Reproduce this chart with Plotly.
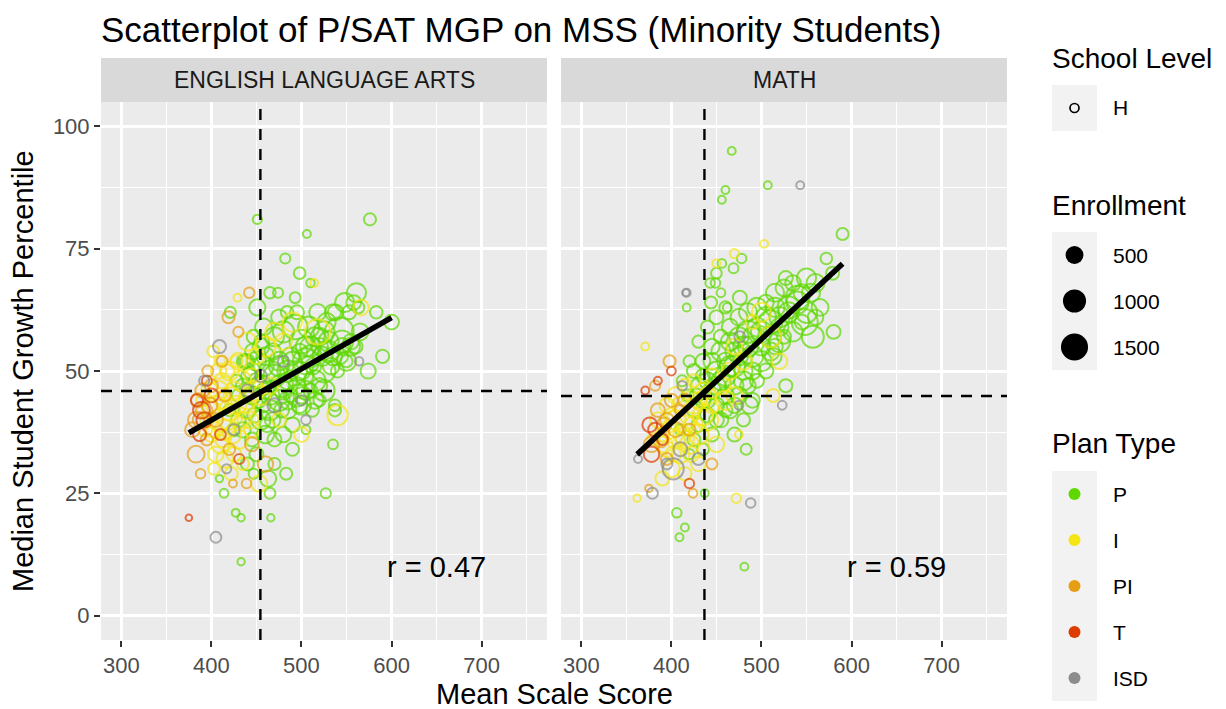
import numpy as np
import plotly.graph_objects as go

# ---------------- data ----------------
# Mean Scale Score (mss), Median Growth Percentile (mgp), enrollment (enr) per plan type

# ENGLISH LANGUAGE ARTS
ela_p_mss = [451, 576, 506, 482, 498, 510, 465, 474, 493, 561, 558, 563, 600, 583, 590, 574, 542, 451, 484, 535,
             493, 421, 427, 433, 466, 433, 527, 535, 483, 465, 463, 409, 505, 537, 537, 414, 447,
             440, 455, 470, 480, 500, 510, 520, 530, 545, 555, 565, 550, 525, 515, 505, 495, 485, 475, 465, 460,
             450, 445, 440, 435, 430, 425, 435, 445, 455, 465, 475, 485, 495, 505, 515, 525, 535, 545, 555, 560,
             550, 540, 520, 510, 500, 490, 480, 470, 460, 450, 440, 470, 490, 500, 478, 468, 458, 447, 488, 498,
             508, 518, 528, 538, 548, 458, 452, 462, 442, 430, 420, 428, 438, 503, 513, 523, 533, 543, 553, 495,
             475, 485, 512, 520,
             445, 450, 455, 460, 465, 470, 475, 480, 485, 490, 495, 500, 505, 510, 515, 520, 525, 530, 440, 448,
             458, 468, 478, 488, 498, 436, 446, 456]
ela_p_mgp = [81, 81, 78, 73, 70, 68, 66, 66, 65, 66, 64, 63, 60, 62, 53, 50, 58, 63, 62, 62,
             59, 62, 21, 20, 20, 11, 25, 35, 29, 25, 28, 28, 38, 42, 43, 25, 29,
             52, 55, 57, 58, 56, 55, 57, 54, 56, 55, 58, 52, 50, 48, 52, 50, 48, 52, 50, 46,
             48, 45, 42, 47, 40, 38, 38, 36, 40, 42, 44, 44, 45, 46, 44, 46, 53, 55, 56, 55,
             52, 50, 47, 46, 45, 39, 37, 36, 37, 33, 31, 31, 34, 43, 47, 54, 59, 57, 53, 54,
             59, 62, 60, 62, 64, 51, 44, 39, 49, 45, 42, 48, 52, 49, 51, 53, 51, 53, 62, 62,
             61, 42, 42, 44,
             50, 52, 47, 53, 45, 49, 51, 46, 50, 52, 47, 50, 55, 53, 57, 55, 58, 56, 46, 41,
             43, 40, 42, 45, 43, 52, 54, 56]
ela_p_enr = [90, 200, 60, 120, 180, 70, 170, 120, 150, 700, 350, 200, 350, 220, 260, 380, 1900, 450, 220, 450,
             1300, 160, 60, 50, 50, 50, 120, 110, 200, 150, 450, 50, 80, 220, 180, 80, 120,
             300, 500, 700, 900, 1200, 800, 600, 900, 1000, 600, 500, 700, 1100, 900, 1500, 800, 600, 700, 900, 500,
             400, 600, 500, 300, 350, 250, 400, 300, 700, 800, 900, 600, 1000, 700, 500, 900, 600, 500, 400, 300,
             200, 250, 400, 300, 450, 350, 400, 300, 550, 300, 250, 200, 250, 700, 1100, 450, 500, 300, 600, 400,
             900, 500, 600, 400, 700, 800, 400, 350, 450, 250, 200, 200, 300, 600, 450, 700, 500, 400, 300, 300,
             400, 500, 250, 200,
             500, 700, 900, 600, 700, 1000, 800, 600, 900, 700, 500, 600, 800, 1000, 700, 500, 900, 800, 400, 350,
             300, 400, 350, 300, 400, 300, 400, 350]

ela_i_mss = [429, 514, 566, 518, 540, 453, 402, 403, 398, 405, 410, 415, 420, 425, 430, 435, 440, 445, 410, 405,
             415, 425, 420, 430, 440, 450, 460, 470, 480, 395, 390, 412, 418, 400, 422, 435, 445, 455, 465, 475,
             490, 500, 410, 428,
             400, 408, 413, 418, 423, 428, 433, 438, 443, 448, 403, 413, 423, 393, 408]
ela_i_mgp = [65, 68, 63, 58, 41, 27, 54, 30, 46, 43, 40, 38, 42, 46, 36, 40, 44, 38, 35, 33,
             32, 33, 50, 52, 56, 53, 55, 58, 56, 40, 44, 48, 50, 37, 29, 31, 49, 45, 47, 40,
             60, 37, 52, 52,
             42, 46, 44, 40, 37, 43, 48, 42, 40, 46, 38, 36, 45, 38, 50]
ela_i_enr = [60, 60, 400, 1400, 800, 450, 180, 200, 500, 700, 1000, 800, 900, 600, 700, 500, 600, 400, 600, 400,
             500, 350, 700, 500, 600, 400, 800, 600, 500, 300, 200, 400, 250, 350, 250, 200, 350, 700, 500, 300,
             700, 350, 150, 200,
             600, 700, 500, 800, 600, 700, 800, 600, 500, 800, 500, 400, 500, 300, 400]

ela_pi_mss = [442, 419, 396, 383, 379, 388, 439, 424, 385, 392, 400, 395, 405, 415, 388, 430, 412, 420, 445, 460,
              383, 390, 398]
ela_pi_mgp = [66, 61, 50, 33, 38, 29, 27, 27, 44, 42, 47, 36, 40, 45, 40, 58, 52, 34, 35, 31,
              40, 46, 43]
ela_pi_enr = [130, 200, 150, 500, 350, 100, 100, 60, 300, 450, 250, 200, 300, 200, 400, 120, 150, 180, 300, 400,
              450, 300, 400]

ela_t_mss = [375, 431, 387, 389, 384, 400, 410, 395, 392]
ela_t_mgp = [20, 32, 37, 42, 44, 45, 37, 48, 40]
ela_t_enr = [40, 120, 250, 500, 200, 300, 150, 120, 400]

ela_isd_mss = [405, 409, 392, 564, 417, 425, 470, 455, 480, 500, 440, 505]
ela_isd_mgp = [16, 55, 48, 52, 30, 38, 43, 49, 52, 44, 46, 40]
ela_isd_enr = [150, 250, 120, 70, 90, 150, 300, 200, 150, 120, 200, 100]

# MATH
math_p_mss = [467, 507, 460, 456, 590, 478, 469, 450, 456, 572, 579, 417, 443, 449, 455, 444, 476, 462, 527, 580,
              481, 406, 415, 409, 437, 483, 527, 487, 557, 513,
              540, 530, 550, 520, 510, 500, 490, 480, 470, 460, 450, 440, 430, 425, 435, 445, 455, 465, 475, 485,
              495, 505, 515, 525, 535, 545, 555, 565, 560, 548, 535, 520, 510, 500, 490, 480, 470, 460, 450, 440,
              430, 425, 435, 445, 455, 465, 475, 485, 495, 505, 515, 525, 545, 440, 450, 460, 430, 420, 470, 480,
              490, 455, 465, 475, 485, 445, 435, 425, 418, 412, 410, 420,
              445, 450, 455, 460, 465, 470, 475, 480, 485, 490, 495, 500, 505, 510, 515, 520, 530, 540, 550, 560,
              440, 450, 460, 470, 435, 428]
math_p_mgp = [95, 88, 87, 85, 78, 73, 71, 70, 72, 73, 70, 63, 68, 68, 66, 64, 65, 63, 69, 58,
              10, 21, 18, 16, 25, 34, 47, 43, 57, 53,
              65, 63, 62, 61, 60, 58, 57, 55, 54, 52, 50, 48, 47, 50, 52, 55, 57, 59, 61, 62,
              63, 64, 66, 67, 68, 66, 66, 63, 61, 60, 58, 56, 54, 52, 50, 48, 47, 45, 43, 41,
              39, 36, 34, 37, 40, 42, 45, 47, 48, 50, 55, 57, 60, 59, 61, 63, 56, 52, 37, 40,
              44, 48, 51, 53, 58, 46, 44, 42, 45, 48, 38, 33,
              52, 47, 54, 49, 56, 51, 57, 50, 55, 53, 59, 55, 61, 57, 63, 59, 62, 64, 69, 68,
              44, 40, 42, 43, 49, 45]
math_p_enr = [60, 60, 60, 60, 200, 100, 110, 140, 80, 180, 250, 60, 100, 100, 80, 200, 300, 80, 300, 300,
              60, 100, 60, 60, 60, 150, 250, 500, 1000, 500,
              1200, 1000, 900, 800, 1200, 900, 700, 800, 600, 500, 700, 500, 400, 300, 350, 400, 300, 450, 500, 600,
              700, 400, 600, 500, 400, 500, 600, 500, 400, 1500, 700, 900, 600, 800, 500, 700, 600, 500, 400, 350,
              300, 250, 200, 300, 350, 450, 500, 400, 300, 350, 400, 300, 350, 250, 300, 200, 200, 180, 300, 250,
              350, 700, 800, 600, 1000, 600, 400, 300, 200, 150, 150, 120,
              500, 600, 700, 800, 600, 900, 700, 600, 800, 900, 700, 600, 800, 900, 700, 600, 800, 1000, 700, 600,
              400, 350, 300, 400, 300, 300]

math_i_mss = [371, 503, 470, 450, 362, 472, 475, 513, 500, 510, 480, 460, 440, 430, 420, 410, 400, 395, 405, 415,
              425, 435, 445, 390, 385, 395, 405, 415, 425, 380, 400, 415, 430, 450, 470, 490, 520, 390,
              398, 405, 410, 415, 420, 425, 430, 435, 440, 445, 392, 402, 412, 422, 455, 465, 470]
math_i_mgp = [55, 76, 74, 72, 24, 24, 37, 45, 62, 57, 52, 44, 40, 37, 35, 33, 30, 34, 36, 39,
              43, 46, 49, 37, 40, 43, 45, 47, 48, 36, 41, 29, 31, 35, 45, 60, 52, 28,
              38, 40, 43, 36, 41, 39, 44, 41, 45, 43, 35, 33, 37, 33, 47, 50, 55]
math_i_enr = [60, 60, 90, 60, 50, 100, 60, 250, 700, 900, 500, 700, 900, 800, 700, 600, 500, 400, 600, 700,
              500, 400, 350, 300, 400, 350, 500, 300, 250, 200, 300, 250, 350, 400, 500, 300, 400, 300,
              600, 700, 500, 600, 700, 600, 500, 800, 600, 400, 500, 400, 600, 400, 600, 500, 400]

math_pi_mss = [398, 375, 424, 385, 392, 400, 378, 395, 410, 382, 420, 445, 388, 395, 405, 415]
math_pi_mgp = [52, 26, 25, 42, 39, 44, 35, 32, 42, 47, 38, 31, 36, 40, 38, 44]
math_pi_enr = [200, 50, 80, 300, 350, 250, 400, 200, 150, 120, 200, 150, 400, 300, 350, 250]

math_t_mss = [371, 420, 378, 376, 385, 390, 400, 382]
math_t_mgp = [46, 27, 33, 39, 48, 36, 50, 38]
math_t_enr = [60, 100, 400, 350, 60, 150, 80, 300]

math_isd_mss = [417, 416, 543, 476, 363, 379, 488, 402, 523, 475, 410, 395, 430, 412]
math_isd_mgp = [66, 66, 88, 57, 32, 25, 23, 30, 43, 43, 34, 31, 32, 47]
math_isd_enr = [60, 50, 60, 150, 60, 150, 100, 900, 80, 80, 300, 150, 200, 100]

# reference lines (dashed) and correlation labels
ela_ref_mss, ela_ref_mgp = 454.4, 45.9
math_ref_mss, math_ref_mgp = 436.7, 44.9
r_labels = ["r = 0.47", "r = 0.59"]
subjects = ["ENGLISH LANGUAGE ARTS", "MATH"]

plan_types = ["P", "I", "PI", "T", "ISD"]
plan_colors = ["#5ED800", "#F4E514", "#E69F14", "#DC3C00", "#8C8C8C"]
enroll_breaks = [500, 1000, 1500]

# ---------------- geometry (pixels) ----------------
W, H = 1226, 709
FONT = "Liberation Sans, Arial, Helvetica, sans-serif"
P1 = (101, 547)
P2 = (561, 1007)
PY = (102, 640)
STRIP = (58, 102)


def fx(px):
    return px / W


def fy(py):
    return 1 - py / H


def diam(e):
    e = np.asarray(e, dtype=float)
    return 4.9 * (1 + 5 * np.sqrt(np.clip((e - 30) / 1970, 0, 1)))


fig = go.Figure()

panels = [
    ("x", "y", [(ela_p_mss, ela_p_mgp, ela_p_enr), (ela_i_mss, ela_i_mgp, ela_i_enr),
                (ela_pi_mss, ela_pi_mgp, ela_pi_enr), (ela_t_mss, ela_t_mgp, ela_t_enr),
                (ela_isd_mss, ela_isd_mgp, ela_isd_enr)], ela_ref_mss, ela_ref_mgp),
    ("x2", "y2", [(math_p_mss, math_p_mgp, math_p_enr), (math_i_mss, math_i_mgp, math_i_enr),
                  (math_pi_mss, math_pi_mgp, math_pi_enr), (math_t_mss, math_t_mgp, math_t_enr),
                  (math_isd_mss, math_isd_mgp, math_isd_enr)], math_ref_mss, math_ref_mgp),
]

for xa, ya, groups, ref_x, ref_y in panels:
    for (mss, mgp, enr), col in zip(groups, plan_colors):
        fig.add_trace(go.Scatter(
            x=mss, y=mgp, mode="markers", xaxis=xa, yaxis=ya, showlegend=False, hoverinfo="skip",
            marker=dict(symbol="circle-open", size=diam(enr), color=col, line=dict(width=2)),
        ))
    # dashed reference lines
    fig.add_trace(go.Scatter(x=[ref_x, ref_x], y=[-5, 105], mode="lines", xaxis=xa, yaxis=ya,
                             showlegend=False, hoverinfo="skip",
                             line=dict(color="black", width=2.4, dash="11px,9px")))
    fig.add_trace(go.Scatter(x=[277.5, 772.5], y=[ref_y, ref_y], mode="lines", xaxis=xa, yaxis=ya,
                             showlegend=False, hoverinfo="skip",
                             line=dict(color="black", width=2.4, dash="11px,9px")))
    # least-squares fit across the panel's schools
    all_x = np.concatenate([np.asarray(g[0], float) for g in groups])
    all_y = np.concatenate([np.asarray(g[1], float) for g in groups])
    slope, icpt = np.polyfit(all_x, all_y, 1)
    xs = np.array([all_x.min(), all_x.max()])
    fig.add_trace(go.Scatter(x=xs, y=icpt + slope * xs, mode="lines", xaxis=xa, yaxis=ya,
                             showlegend=False, hoverinfo="skip",
                             line=dict(color="black", width=5.5)))

axis_common = dict(
    showgrid=True, gridcolor="white", gridwidth=2.6, zeroline=False, showline=False,
    ticks="outside", ticklen=6, tickwidth=2, tickcolor="#333333",
    tickfont=dict(family=FONT, size=22, color="#4D4D4D"),
)
xcommon = dict(axis_common, range=[277.5, 772.5], tickvals=[300, 400, 500, 600, 700],
               minor=dict(tickvals=[350, 450, 550, 650, 750], showgrid=True, gridcolor="white",
                          gridwidth=1.3, ticks=""))
ycommon = dict(axis_common, range=[-5, 105], tickvals=[0, 25, 50, 75, 100],
               minor=dict(tickvals=[12.5, 37.5, 62.5, 87.5], showgrid=True, gridcolor="white",
                          gridwidth=1.3, ticks=""))

fig.update_layout(
    width=W, height=H, margin=dict(l=0, r=0, t=0, b=0),
    paper_bgcolor="white", plot_bgcolor="rgba(0,0,0,0)",
    font=dict(family=FONT, color="black"),
    xaxis=dict(xcommon, domain=[fx(P1[0]), fx(P1[1])], anchor="y"),
    yaxis=dict(ycommon, domain=[fy(PY[1]), fy(PY[0])], anchor="x"),
    xaxis2=dict(xcommon, domain=[fx(P2[0]), fx(P2[1])], anchor="y2"),
    yaxis2=dict(ycommon, domain=[fy(PY[1]), fy(PY[0])], anchor="x2", showticklabels=False, ticks=""),
)

shapes = []
annotations = []

# panel backgrounds and facet strips
for (l, r), subj in zip([P1, P2], subjects):
    shapes.append(dict(type="rect", xref="paper", yref="paper", x0=fx(l), x1=fx(r), y0=fy(PY[1]), y1=fy(PY[0]),
                       fillcolor="#EBEBEB", line=dict(width=0), layer="below"))
    shapes.append(dict(type="rect", xref="paper", yref="paper", x0=fx(l), x1=fx(r), y0=fy(STRIP[1]), y1=fy(STRIP[0]),
                       fillcolor="#D9D9D9", line=dict(width=0), layer="below"))
    annotations.append(dict(text=subj, xref="paper", yref="paper", x=fx((l + r) / 2), y=fy(sum(STRIP) / 2),
                            showarrow=False, xanchor="center", yanchor="middle",
                            font=dict(family=FONT, size=23, color="#1A1A1A")))

# correlation labels
for xa, ya, lab in [("x", "y", r_labels[0]), ("x2", "y2", r_labels[1])]:
    annotations.append(dict(text=lab, xref=xa, yref=ya, x=650, y=10, showarrow=False,
                            xanchor="center", yanchor="middle", font=dict(family=FONT, size=29, color="black")))

# title and axis titles
annotations.append(dict(text="Scatterplot of P/SAT MGP on MSS (Minority Students)", xref="paper", yref="paper",
                        x=fx(99), y=fy(29), showarrow=False, xanchor="left", yanchor="middle",
                        font=dict(family=FONT, size=35, color="black")))
annotations.append(dict(text="Mean Scale Score", xref="paper", yref="paper", x=fx(554), y=fy(694),
                        showarrow=False, xanchor="center", yanchor="middle",
                        font=dict(family=FONT, size=29, color="black")))
annotations.append(dict(text="Median Student Growth Percentile", xref="paper", yref="paper", x=fx(23), y=fy(371),
                        showarrow=False, xanchor="center", yanchor="middle", textangle=-90,
                        font=dict(family=FONT, size=29, color="black")))

# legends
KX0, KX1 = 1052, 1097
KC = (KX0 + KX1) / 2
LAB_X = 1111
KEY_H = 46


def legend_title(text, y):
    annotations.append(dict(text=text, xref="paper", yref="paper", x=fx(KX0 - 2), y=fy(y), showarrow=False,
                            xanchor="left", yanchor="middle", font=dict(family=FONT, size=28, color="black")))


def legend_label(text, y):
    annotations.append(dict(text=text, xref="paper", yref="paper", x=fx(LAB_X), y=fy(y), showarrow=False,
                            xanchor="left", yanchor="middle", font=dict(family=FONT, size=21, color="black")))


def key_box(y0, n):
    shapes.append(dict(type="rect", xref="paper", yref="paper", x0=fx(KX0), x1=fx(KX1),
                       y0=fy(y0 + n * KEY_H), y1=fy(y0), fillcolor="#F2F2F2", line=dict(width=0), layer="below"))


def dot(cy, d, color, filled=True):
    shapes.append(dict(type="circle", xref="paper", yref="paper",
                       x0=fx(KC - d / 2), x1=fx(KC + d / 2), y0=fy(cy + d / 2), y1=fy(cy - d / 2),
                       fillcolor=color if filled else "rgba(0,0,0,0)",
                       line=dict(color=color, width=0 if filled else 1.7)))


# School Level
legend_title("School Level", 59)
key_box(85, 1)
dot(85 + KEY_H / 2, 9, "black", filled=False)
legend_label("H", 85 + KEY_H / 2)

# Enrollment
legend_title("Enrollment", 205)
key_box(232, 3)
for i, e in enumerate(enroll_breaks):
    cy = 232 + KEY_H * i + KEY_H / 2
    dot(cy, float(diam(e)) + 1, "black")
    legend_label(str(e), cy)

# Plan Type
legend_title("Plan Type", 443)
key_box(471, 5)
for i, (pt, col) in enumerate(zip(plan_types, plan_colors)):
    cy = 471 + KEY_H * i + KEY_H / 2
    dot(cy, 12, col)
    legend_label(pt, cy)

fig.update_layout(shapes=shapes, annotations=annotations)
fig.write_html("out.html")
